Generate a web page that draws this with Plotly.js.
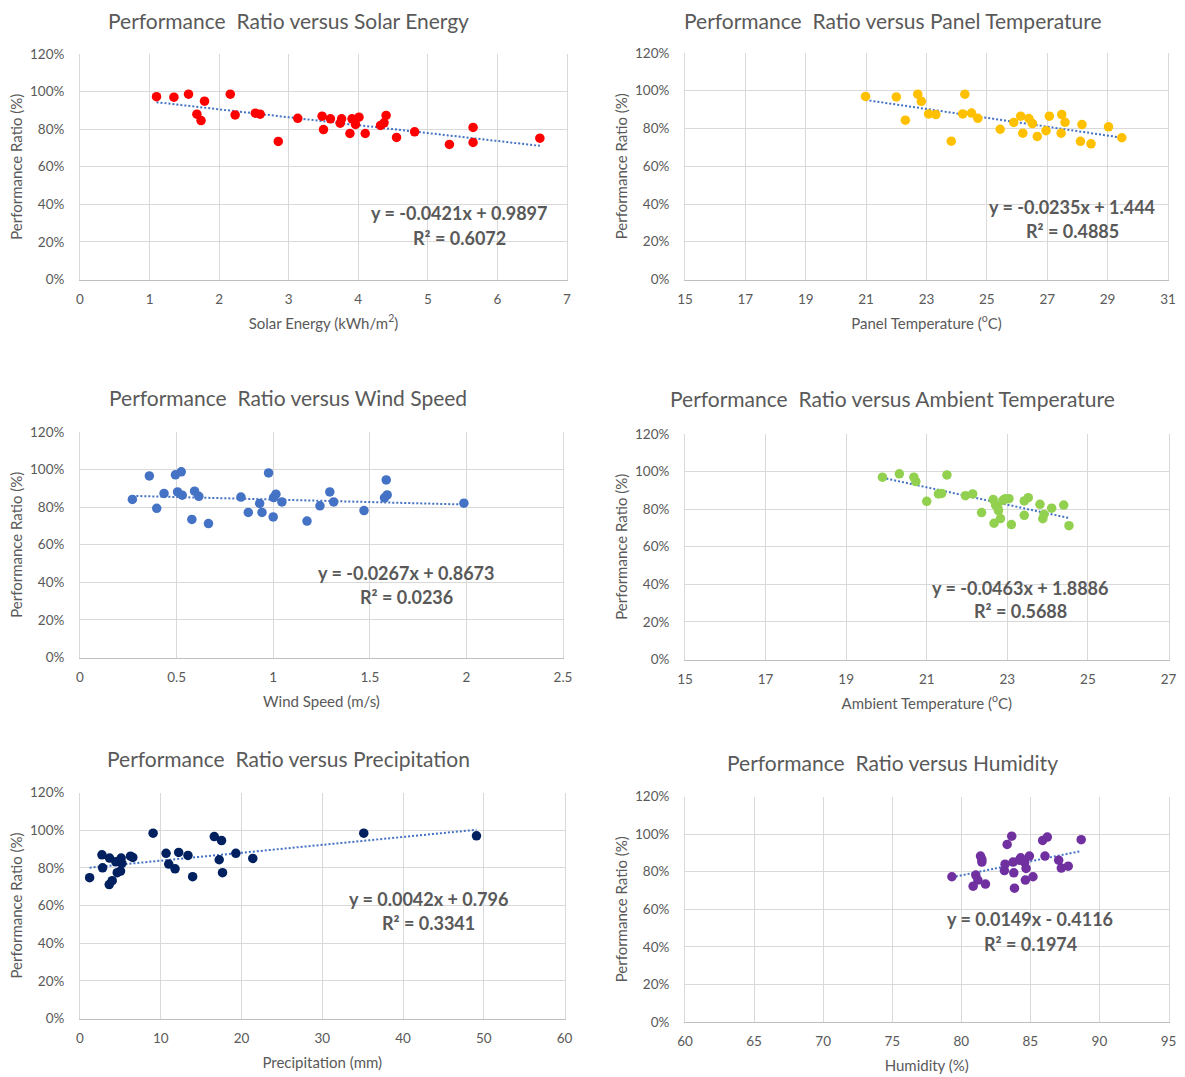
<!DOCTYPE html>
<html>
<head>
<meta charset="utf-8">
<script src="https://cdn.plot.ly/plotly-3.0.1.min.js"></script>
<style>html,body{margin:0;padding:0;background:#fff;}#chart{width:1185px;height:1077px;}</style>
</head>
<body>
<div id="chart"></div>
<script>
// ---------------- DATA ----------------
const solarX = [1.10,1.35,1.56,1.79,1.68,1.74,2.16,2.23,2.52,2.59,2.85,3.13,3.48,3.50,3.60,3.74,3.76,3.88,3.91,3.96,4.01,4.10,4.32,4.37,4.40,4.55,4.81,5.31,5.65,5.65,6.61];
const solarY = [0.973,0.970,0.986,0.949,0.880,0.846,0.986,0.876,0.885,0.880,0.735,0.858,0.869,0.798,0.855,0.832,0.855,0.777,0.855,0.825,0.864,0.777,0.820,0.834,0.873,0.756,0.786,0.719,0.809,0.729,0.752];

const panelX = [20.98,22.0,22.3,22.71,22.83,23.07,23.31,23.82,24.2,24.27,24.49,24.7,25.44,25.89,26.12,26.19,26.39,26.51,26.67,26.96,27.07,27.46,27.48,27.59,28.15,28.1,28.45,29.03,29.47];
const panelY = [0.970,0.967,0.844,0.982,0.944,0.877,0.874,0.733,0.877,0.982,0.882,0.854,0.796,0.832,0.865,0.775,0.853,0.826,0.758,0.788,0.865,0.775,0.874,0.833,0.821,0.732,0.719,0.809,0.751];

const windX = [0.271,0.359,0.397,0.435,0.494,0.524,0.505,0.529,0.579,0.593,0.615,0.665,0.833,0.871,0.93,0.942,0.976,1.002,1.014,1.0,1.045,1.175,1.242,1.293,1.313,1.47,1.585,1.576,1.59,1.987];
const windY = [0.841,0.966,0.794,0.873,0.972,0.988,0.881,0.864,0.735,0.885,0.858,0.713,0.854,0.772,0.820,0.772,0.982,0.851,0.869,0.748,0.828,0.726,0.807,0.881,0.828,0.782,0.945,0.850,0.865,0.821];

const ambientX = [19.90,20.32,20.68,20.73,21.0,21.29,21.37,21.5,21.96,22.14,22.36,22.65,22.71,22.76,22.78,22.83,22.67,22.89,22.95,23.04,23.1,23.42,23.52,23.42,23.81,23.88,23.91,24.1,24.4,24.53];
const ambientY = [0.970,0.988,0.970,0.947,0.842,0.881,0.884,0.982,0.872,0.881,0.782,0.851,0.821,0.810,0.792,0.750,0.725,0.847,0.856,0.856,0.718,0.844,0.861,0.767,0.826,0.749,0.772,0.805,0.822,0.712];

const precipX = [1.19,2.72,2.8,3.66,3.62,3.99,4.44,4.61,5.02,5.1,5.19,6.26,6.54,9.05,10.66,10.99,11.77,12.22,13.37,13.95,16.63,17.24,17.53,17.65,19.3,21.4,35.14,49.1];
const precipY = [0.748,0.869,0.800,0.852,0.711,0.732,0.832,0.774,0.783,0.852,0.824,0.862,0.855,0.984,0.877,0.820,0.795,0.882,0.866,0.753,0.966,0.843,0.945,0.774,0.877,0.850,0.984,0.970];

const humidX = [79.32,80.86,81.05,81.2,81.39,81.49,81.49,81.75,83.12,83.17,83.32,83.65,83.75,83.8,83.85,84.2,84.3,84.59,84.69,84.64,84.93,85.19,85.89,86.23,86.06,87.05,87.24,87.74,88.68];
const humidY = [0.773,0.723,0.782,0.755,0.883,0.865,0.851,0.734,0.806,0.840,0.945,0.989,0.851,0.794,0.712,0.861,0.874,0.849,0.817,0.755,0.883,0.773,0.966,0.984,0.883,0.861,0.819,0.829,0.970];

const titles = ["Performance  Ratio versus Solar Energy","Performance  Ratio versus Panel Temperature","Performance  Ratio versus Wind Speed","Performance  Ratio versus Ambient Temperature","Performance  Ratio versus Precipitation","Performance  Ratio versus Humidity"];
const xTitles = ["Solar Energy (kWh/m<sup>2</sup>)","Panel Temperature (<sup>o</sup>C)","Wind Speed (m/s)","Ambient Temperature (<sup>o</sup>C)","Precipitation (mm)","Humidity (%)"];
const yTitle = "Performance Ratio (%)";
const slopes = [-0.0421,-0.0235,-0.0267,-0.0463,0.0042,0.0149];
const intercepts = [0.9897,1.444,0.8673,1.8886,0.796,-0.4116];
const eqLabels = ["y = -0.0421x + 0.9897","y = -0.0235x + 1.444","y = -0.0267x + 0.8673","y = -0.0463x + 1.8886","y = 0.0042x + 0.796","y = 0.0149x - 0.4116"];
const r2Labels = ["R² = 0.6072","R² = 0.4885","R² = 0.0236","R² = 0.5688","R² = 0.3341","R² = 0.1974"];
const colors = ["#FF0000","#FFC000","#4472C4","#92D050","#002060","#7030A0"];

// ---------------- LAYOUT GEOMETRY (pixels) ----------------
const W = 1185, H = 1077;
const boxes = [
  {l:80, r:567, t:54, b:279.5, xr:[0,7], dt:1, title:[288,20], eq:[459,213,238]},
  {l:685, r:1168, t:53, b:279.5, xr:[15,31], dt:2, title:[893,20], eq:[1072,207,231]},
  {l:80, r:563, t:432, b:657.5, xr:[0,2.5], dt:0.5, title:[288,397], eq:[406,573,597]},
  {l:685, r:1168.5, t:434, b:659.5, xr:[15,27], dt:2, title:[893,399], eq:[1020,588,611]},
  {l:80, r:564.5, t:792.5, b:1018.5, xr:[0,60], dt:10, title:[288,758], eq:[428,899,923]},
  {l:685, r:1168.5, t:796.5, b:1022, xr:[60,95], dt:5, title:[893,762], eq:[1030,919,944]}
];
const px = v => v / W;
const py = v => 1 - v / H;

const series = [[solarX,solarY],[panelX,panelY],[windX,windY],[ambientX,ambientY],[precipX,precipY],[humidX,humidY]];
const textColor = "#595959";
const fontFam = "Lato, 'Open Sans', sans-serif";

const data = [];
const layout = {
  width: W, height: H,
  margin: {l:0, r:0, t:0, b:0},
  paper_bgcolor: "#fff", plot_bgcolor: "#fff",
  showlegend: false,
  font: {family: fontFam, color: textColor, size: 13},
  annotations: []
};

series.forEach((s, i) => {
  const n = i === 0 ? "" : String(i + 1);
  const xa = "x" + n, ya = "y" + n;
  const xs = s[0], ys = s[1];
  const xmin = Math.min(...xs), xmax = Math.max(...xs);
  // trendline from the fitted equation
  data.push({
    type: "scatter", mode: "lines", xaxis: xa, yaxis: ya,
    x: [xmin, xmax],
    y: [slopes[i] * xmin + intercepts[i], slopes[i] * xmax + intercepts[i]],
    line: {color: "#4472C4", width: 2, dash: "2px,2px"},
    hoverinfo: "skip"
  });
  data.push({
    type: "scatter", mode: "markers", xaxis: xa, yaxis: ya,
    x: xs, y: ys,
    marker: {color: colors[i], size: 9.5, line: {width: 0}}
  });
  const b = boxes[i];
  layout["xaxis" + n] = {
    domain: [px(b.l), px(b.r)], anchor: ya,
    range: b.xr, dtick: b.dt, tick0: b.xr[0],
    showgrid: true, gridcolor: "#d9d9d9", gridwidth: 1,
    zeroline: false, showline: true, linecolor: "#bfbfbf", linewidth: 1,
    ticks: "", ticklabelstandoff: 7,
    tickfont: {family: fontFam, size: 13.5, color: textColor},
    title: {text: xTitles[i], font: {family: fontFam, size: 15, color: textColor}, standoff: 12}
  };
  layout["yaxis" + n] = {
    domain: [py(b.b), py(b.t)], anchor: xa,
    range: [0, 1.2], dtick: 0.2, tickformat: ".0%",
    showgrid: true, gridcolor: "#d9d9d9", gridwidth: 1,
    zeroline: false, showline: true, mirror: true, linecolor: "#d9d9d9", linewidth: 1,
    ticks: "", ticklabelstandoff: 12,
    tickfont: {family: fontFam, size: 13.5, color: textColor},
    title: {text: yTitle, font: {family: fontFam, size: 15, color: textColor}, standoff: 3}
  };
  layout.annotations.push({
    xref: "paper", yref: "paper", x: px(b.title[0]), y: py(b.title[1]),
    xanchor: "center", yanchor: "middle", showarrow: false,
    text: titles[i], font: {family: fontFam, size: 21, color: textColor}
  });
  layout.annotations.push({
    xref: "paper", yref: "paper", x: px(b.eq[0]), y: py(b.eq[1]),
    xanchor: "center", yanchor: "middle", showarrow: false,
    text: "<b>" + eqLabels[i] + "</b>", font: {family: fontFam, size: 18, color: textColor}
  });
  layout.annotations.push({
    xref: "paper", yref: "paper", x: px(b.eq[0]), y: py(b.eq[2]),
    xanchor: "center", yanchor: "middle", showarrow: false,
    text: "<b>" + r2Labels[i] + "</b>", font: {family: fontFam, size: 18, color: textColor}
  });
});

Plotly.newPlot("chart", data, layout, {staticPlot: true, displayModeBar: false});
</script>
</body>
</html>
